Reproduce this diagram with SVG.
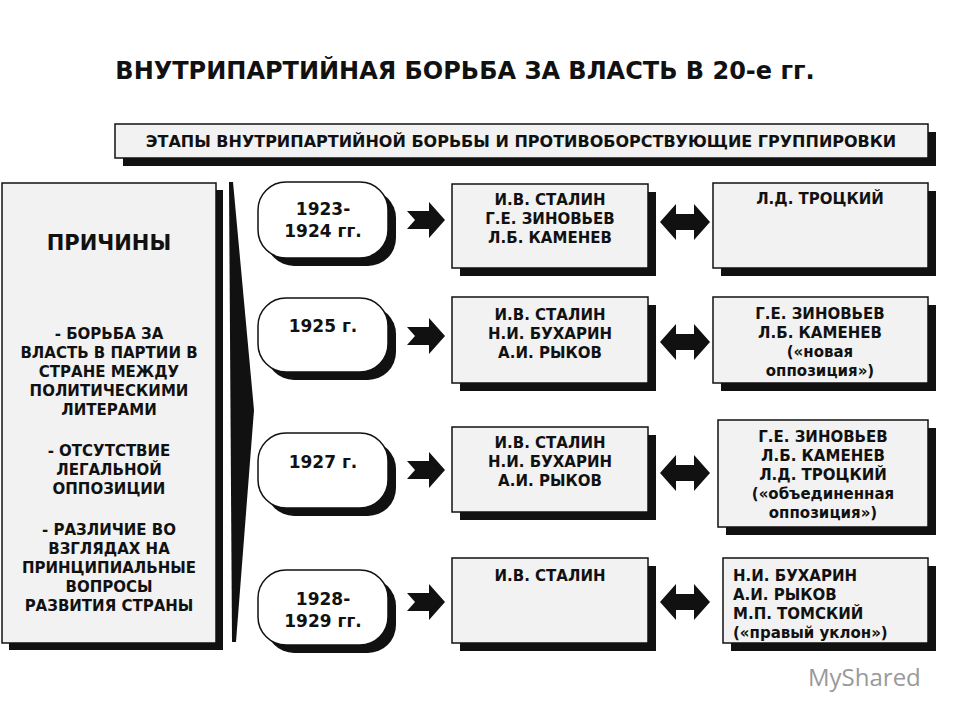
<svg xmlns="http://www.w3.org/2000/svg" width="960" height="720" viewBox="0 0 960 720">
<style>
text{font-family:"DejaVu Sans","Liberation Sans",sans-serif;font-weight:bold;fill:#111;text-anchor:middle}
.t{font-size:15px}
.sh{fill:#111}
.bx{fill:#f2f2f2;stroke:#111;stroke-width:1.5}
.pill{fill:#fff;stroke:#111;stroke-width:1.5}
</style>
<defs>
<path id="ar" d="M0,-9 L22,-9 L22,-18 L38,0 L22,18 L22,9 L0,9 L8,0 Z" fill="#111"/>
<path id="dar" d="M0,0 L16,-18 L16,-8 L34,-8 L34,-18 L50,0 L34,18 L34,8 L16,8 L16,18 Z" fill="#111"/>
</defs>
<rect width="960" height="720" fill="#fff"/>
<text x="465" y="79" font-size="24">ВНУТРИПАРТИЙНАЯ БОРЬБА ЗА ВЛАСТЬ В 20-е гг.</text>
<g id="header">
<rect class="sh" x="123" y="132" width="813" height="34"/>
<rect class="bx" x="115" y="124" width="813" height="34"/>
<text x="521" y="147" font-size="16">ЭТАПЫ ВНУТРИПАРТИЙНОЙ БОРЬБЫ И ПРОТИВОБОРСТВУЮЩИЕ ГРУППИРОВКИ</text>
</g>
<g id="causes">
<rect class="sh" x="9" y="190" width="214" height="460"/>
<rect class="bx" x="2" y="183" width="214" height="460"/>
<text x="109" y="250" font-size="21">ПРИЧИНЫ</text>
<text class="t" x="109" y="339">- БОРЬБА ЗА</text>
<text class="t" x="109" y="358">ВЛАСТЬ В ПАРТИИ В</text>
<text class="t" x="109" y="377">СТРАНЕ МЕЖДУ</text>
<text class="t" x="109" y="396">ПОЛИТИЧЕСКИМИ</text>
<text class="t" x="109" y="415">ЛИТЕРАМИ</text>
<text class="t" x="109" y="456">- ОТСУТСТВИЕ</text>
<text class="t" x="109" y="475">ЛЕГАЛЬНОЙ</text>
<text class="t" x="109" y="494">ОППОЗИЦИИ</text>
<text class="t" x="109" y="535">- РАЗЛИЧИЕ ВО</text>
<text class="t" x="109" y="554">ВЗГЛЯДАХ НА</text>
<text class="t" x="109" y="573">ПРИНЦИПИАЛЬНЫЕ</text>
<text class="t" x="109" y="592">ВОПРОСЫ</text>
<text class="t" x="109" y="611">РАЗВИТИЯ СТРАНЫ</text>
</g>
<g id="connectors">
<path d="M229,182 L233,182 L254,410 L236,642 L232,642 Z" fill="#111"/>
<use href="#ar" x="407" y="220"/>
<use href="#ar" x="407" y="336"/>
<use href="#ar" x="407" y="470"/>
<use href="#ar" x="407" y="602"/>
<use href="#dar" x="660" y="222"/>
<use href="#dar" x="660" y="342"/>
<use href="#dar" x="660" y="473"/>
<use href="#dar" x="660" y="602"/>
</g>
<g id="p1"><rect class="sh" x="266" y="190" width="130" height="76" rx="28"/><rect class="pill" x="258" y="182" width="130" height="76" rx="28"/>
<text x="323" y="215" font-size="17">1923-</text><text x="323" y="237" font-size="17">1924 гг.</text></g>
<g id="p2"><rect class="sh" x="266" y="306" width="130" height="74" rx="28"/><rect class="pill" x="258" y="298" width="130" height="74" rx="28"/>
<text x="323" y="332" font-size="17">1925 г.</text></g>
<g id="p3"><rect class="sh" x="266" y="441" width="130" height="75" rx="28"/><rect class="pill" x="258" y="433" width="130" height="75" rx="28"/>
<text x="323" y="468" font-size="17">1927 г.</text></g>
<g id="p4"><rect class="sh" x="266" y="578" width="130" height="75" rx="28"/><rect class="pill" x="258" y="570" width="130" height="75" rx="28"/>
<text x="323" y="605" font-size="17">1928-</text><text x="323" y="627" font-size="17">1929 гг.</text></g>
<g id="m1"><rect class="sh" x="460" y="192" width="196" height="84"/><rect class="bx" x="452" y="184" width="196" height="84"/>
<text class="t" x="550" y="205">И.В. СТАЛИН</text><text class="t" x="550" y="224">Г.Е. ЗИНОВЬЕВ</text><text class="t" x="550" y="243">Л.Б. КАМЕНЕВ</text></g>
<g id="m2"><rect class="sh" x="460" y="305" width="196" height="86"/><rect class="bx" x="452" y="297" width="196" height="86"/>
<text class="t" x="550" y="320">И.В. СТАЛИН</text><text class="t" x="550" y="339">Н.И. БУХАРИН</text><text class="t" x="550" y="358">А.И. РЫКОВ</text></g>
<g id="m3"><rect class="sh" x="460" y="435" width="196" height="85"/><rect class="bx" x="452" y="427" width="196" height="85"/>
<text class="t" x="550" y="448">И.В. СТАЛИН</text><text class="t" x="550" y="467">Н.И. БУХАРИН</text><text class="t" x="550" y="486">А.И. РЫКОВ</text></g>
<g id="m4"><rect class="sh" x="460" y="566" width="196" height="85"/><rect class="bx" x="452" y="558" width="196" height="85"/>
<text class="t" x="550" y="581">И.В. СТАЛИН</text></g>
<g id="r1"><rect class="sh" x="721" y="191" width="215" height="85"/><rect class="bx" x="713" y="183" width="215" height="85"/>
<text class="t" x="820" y="204">Л.Д. ТРОЦКИЙ</text></g>
<g id="r2"><rect class="sh" x="721" y="305" width="215" height="86"/><rect class="bx" x="713" y="297" width="215" height="86"/>
<text class="t" x="820" y="319">Г.Е. ЗИНОВЬЕВ</text><text class="t" x="820" y="338">Л.Б. КАМЕНЕВ</text>
<text class="t" x="820" y="357">(«новая</text><text class="t" x="820" y="376">оппозиция»)</text></g>
<g id="r3"><rect class="sh" x="726" y="428" width="210" height="107"/><rect class="bx" x="718" y="420" width="210" height="107"/>
<text class="t" x="823" y="442">Г.Е. ЗИНОВЬЕВ</text><text class="t" x="823" y="461">Л.Б. КАМЕНЕВ</text><text class="t" x="823" y="480">Л.Д. ТРОЦКИЙ</text>
<text class="t" x="823" y="499">(«объединенная</text><text class="t" x="823" y="518">оппозиция»)</text></g>
<g id="r4"><rect class="sh" x="731" y="566" width="205" height="85"/><rect class="bx" x="723" y="558" width="205" height="85"/>
<text class="t" x="733" y="581" style="text-anchor:start">Н.И. БУХАРИН</text><text class="t" x="733" y="600" style="text-anchor:start">А.И. РЫКОВ</text>
<text class="t" x="733" y="619" style="text-anchor:start">М.П. ТОМСКИЙ</text><text class="t" x="733" y="638" style="text-anchor:start">(«правый уклон»)</text></g>
<text x="808" y="686" font-size="24" style="font-weight:normal;fill:#999;text-anchor:start;font-family:'Open Sans',sans-serif">MyShared</text>
</svg>
